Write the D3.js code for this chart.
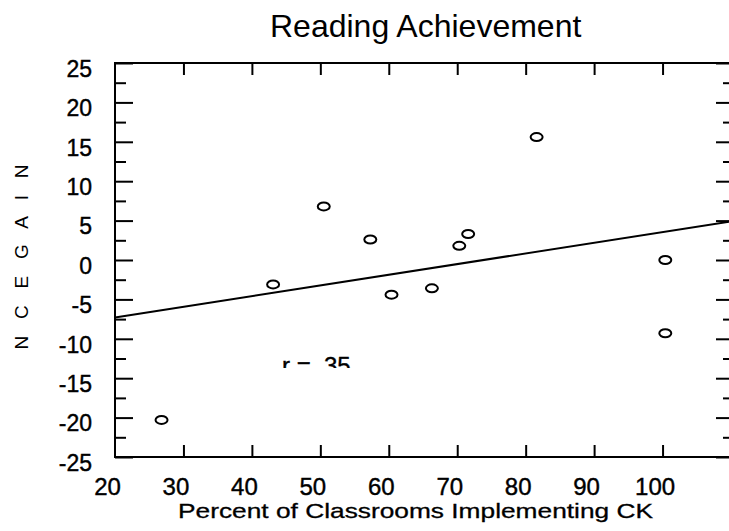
<!DOCTYPE html>
<html>
<head>
<meta charset="utf-8">
<script src="https://cdn.jsdelivr.net/npm/d3@7"></script>
<style>
  html, body { margin: 0; padding: 0; background: #fff; }
  svg { display: block; }
  text { font-family: "Liberation Sans", Arial, Helvetica, sans-serif; fill: #000; }
</style>
</head>
<body>
<script>
// ---- data ----
const pctImplementing = [26.8, 43.1, 50.5, 57.3, 60.4, 66.3, 70.3, 71.6, 81.6, 100.4, 100.4];
const nceGain         = [-20.3, -3.1, 6.8, 2.6, -4.4, -3.6, 1.8, 3.3, 15.6, 0.0, -9.3];
const fitX = [20, 110];
const fitY = [-7.3, 4.9];
const xTickValues = [20, 30, 40, 50, 60, 70, 80, 90, 100];
const yTickValues = [25, 20, 15, 10, 5, 0, -5, -10, -15, -20, -25];
const yMinorValues = [22.5, 17.5, 12.5, 7.5, 2.5, -2.5, -7.5, -12.5, -17.5, -22.5];
const titleText = "Reading Achievement";
const xLabel = "Percent of Classrooms Implementing CK";
const yLabel = "N C E   G A I N";
const rLabel = "r = .35";

const W = 729, H = 531;
const svg = d3.select("body").append("svg").attr("width", W).attr("height", H);
svg.append("rect").attr("width", W).attr("height", H).attr("fill", "#fff");

const x = d3.scaleLinear().domain([20, 110]).range([115, 731]);
const y = d3.scaleLinear().domain([-25, 25]).range([457, 63]);
const fmt = d => String(d);   // plain hyphen-minus as in the reference

// frame
svg.append("rect")
  .attr("x", x(20)).attr("y", y(25))
  .attr("width", x(110) - x(20)).attr("height", y(-25) - y(25))
  .attr("fill", "none").attr("stroke", "#000").attr("stroke-width", 2);

// top ticks
svg.append("g").attr("transform", `translate(0,${y(25)})`)
  .call(d3.axisTop(x).tickValues(xTickValues.slice(1)).tickSize(-12).tickFormat(""));
// bottom ticks + labels
const gBot = svg.append("g").attr("transform", `translate(0,${y(-25)})`)
  .call(d3.axisBottom(x).tickValues(xTickValues).tickSize(-12).tickPadding(26).tickFormat(fmt));
gBot.selectAll("text").attr("font-size", 24).attr("dx", -8).attr("dy", "0.5em")
  .attr("stroke", "#000").attr("stroke-width", 0.4)
  .style("font-family", '"Liberation Sans", Arial, sans-serif');
gBot.select(".tick line").remove();

// left ticks
const gLeft = svg.append("g").attr("transform", `translate(${x(20)},0)`)
  .call(d3.axisLeft(y).tickValues(yTickValues).tickSize(-18).tickPadding(23).tickFormat(fmt));
gLeft.selectAll("text").attr("font-size", 23).attr("dy", "0.58em")
  .attr("stroke", "#000").attr("stroke-width", 0.4)
  .style("font-family", '"Liberation Sans", Arial, sans-serif');
svg.append("g").attr("transform", `translate(${x(20)},0)`)
  .call(d3.axisLeft(y).tickValues(yMinorValues).tickSize(-11).tickFormat(""));

// right ticks
svg.append("g").attr("transform", `translate(${x(110)},0)`)
  .call(d3.axisRight(y).tickValues(yTickValues).tickSize(-15).tickFormat(""));
svg.append("g").attr("transform", `translate(${x(110)},0)`)
  .call(d3.axisRight(y).tickValues(yMinorValues).tickSize(-8).tickFormat(""));

svg.selectAll(".domain").remove();
svg.selectAll(".tick line").attr("stroke", "#000").attr("stroke-width", 2);

// regression line
svg.append("path")
  .datum(fitX.map((d, i) => [d, fitY[i]]))
  .attr("d", d3.line().x(d => x(d[0])).y(d => y(d[1])))
  .attr("fill", "none").attr("stroke", "#000").attr("stroke-width", 2);

// points
svg.append("g").selectAll("ellipse")
  .data(pctImplementing.map((d, i) => [d, nceGain[i]]))
  .join("ellipse")
  .attr("cx", d => x(d[0])).attr("cy", d => y(d[1]))
  .attr("rx", 6).attr("ry", 4)
  .attr("fill", "none").attr("stroke", "#000").attr("stroke-width", 2);

// r label (clipped at its bottom as in the reference)
svg.append("clipPath").attr("id", "rclip")
  .append("rect").attr("x", 260).attr("y", 340).attr("width", 120).attr("height", 28);
svg.append("text")
  .attr("x", 282).attr("y", 374)
  .attr("font-size", 24)
  .attr("stroke", "#000").attr("stroke-width", 0.4)
  .attr("clip-path", "url(#rclip)")
  .text(rLabel);

// title
svg.append("text")
  .attr("x", 270).attr("y", 37)
  .attr("font-size", 32)
  .text(titleText);

// x label
svg.append("text")
  .attr("x", 178).attr("y", 518)
  .attr("font-size", 21)
  .attr("stroke", "#000").attr("stroke-width", 0.3)
  .attr("textLength", 475).attr("lengthAdjust", "spacingAndGlyphs")
  .text(xLabel);

// y label
svg.append("text")
  .attr("transform", `translate(28,257) rotate(-90)`)
  .attr("text-anchor", "middle")
  .attr("font-size", 19)
  .attr("textLength", 185).attr("lengthAdjust", "spacing")
  .text(yLabel);
</script>
</body>
</html>
